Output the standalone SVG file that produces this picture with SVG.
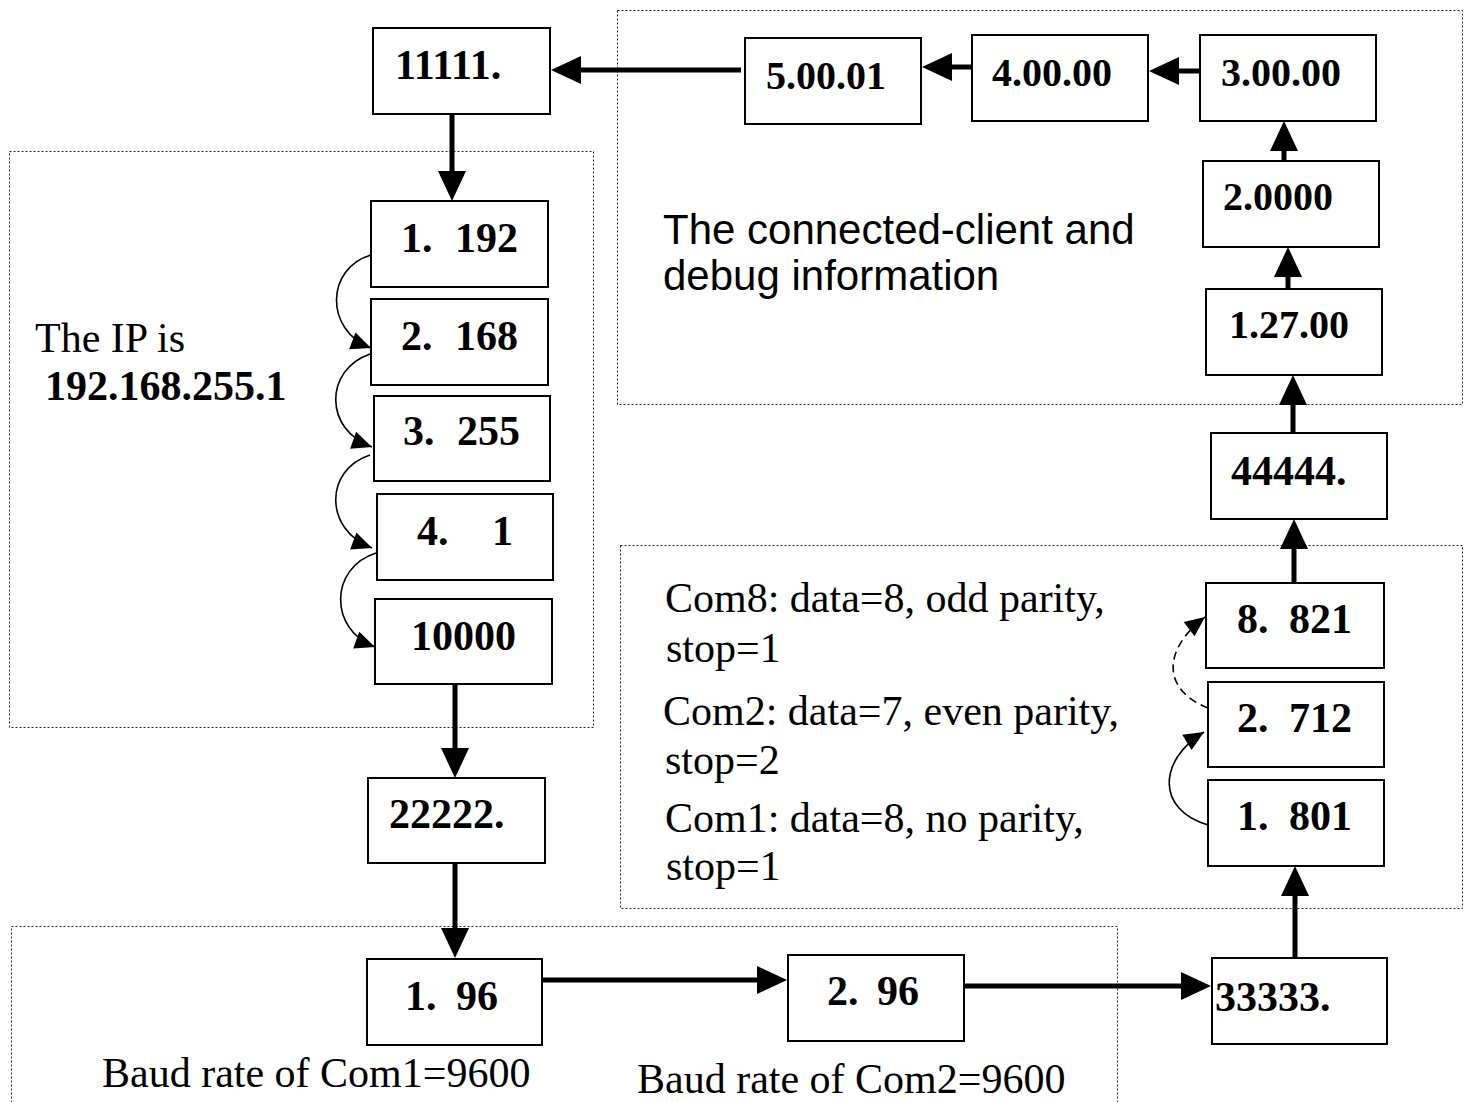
<svg xmlns="http://www.w3.org/2000/svg" width="1465" height="1102" viewBox="0 0 1465 1102">
<style>
.frame{fill:none;stroke:#222;stroke-width:1;stroke-dasharray:2 2}
.box{fill:#fff;stroke:#000;stroke-width:2}
.b{font-family:"Liberation Serif","Times New Roman",serif;font-weight:bold;font-size:42px;fill:#000}
.b2{font-family:"Liberation Serif","Times New Roman",serif;font-weight:bold;font-size:40px;fill:#000}
.r{font-family:"Liberation Serif","Times New Roman",serif;font-size:42px;fill:#000}
.s{font-family:"Liberation Sans",Arial,sans-serif;font-size:42px;fill:#000}
.thick{fill:none;stroke:#000;stroke-width:5;marker-end:url(#big)}
.thin{fill:none;stroke:#000;stroke-width:1.6;marker-end:url(#small)}
.dash{stroke-dasharray:8 5}
</style>
<defs>
<marker id="big" markerUnits="userSpaceOnUse" markerWidth="31" markerHeight="29" refX="0" refY="14" orient="auto" overflow="visible">
<path d="M0,0 L30,14 L0,28 Z" fill="#000"/>
</marker>
<marker id="small" markerUnits="userSpaceOnUse" markerWidth="21" markerHeight="20" refX="20" refY="9" orient="auto" overflow="visible">
<path d="M0,0 L20,9 L0,18 Z" fill="#000"/>
</marker>
</defs>

<g id="frames">
<rect class="frame" x="9.5" y="151.5" width="584" height="576"/>
<rect class="frame" x="617.5" y="10.5" width="845" height="394"/>
<rect class="frame" x="620.5" y="545.5" width="842" height="363"/>
<rect class="frame" x="11.5" y="926.5" width="1106" height="200"/>
</g>

<g id="connectors">
<path class="thick" d="M452,114 L452,171"/>
<path class="thick" d="M455,684 L455,748"/>
<path class="thick" d="M455,862 L455,928"/>
<path class="thick" d="M542,980 L757,980"/>
<path class="thick" d="M964,986 L1181,986"/>
<path class="thick" d="M1295,958 L1295,896"/>
<path class="thick" d="M1294,583 L1294,549"/>
<path class="thick" d="M1293,433 L1293,405"/>
<path class="thick" d="M1288,289 L1288,277"/>
<path class="thick" d="M1284,161 L1284,151"/>
<path class="thick" d="M1200,71 L1179,71"/>
<path class="thick" d="M971,67 L952,67"/>
<path class="thick" d="M741,70 L581,70"/>
<path class="thin" d="M371,255 C326,268 324,330 371,348"/>
<path class="thin" d="M370,354 C324,370 324,430 372,447"/>
<path class="thin" d="M370,455 C324,470 324,530 372,548"/>
<path class="thin" d="M376,553 C329,568 329,630 375,647"/>
<path class="thin" d="M1208,825 C1156,810 1158,760 1204,732"/>
<path class="thin dash" d="M1208,708 C1162,690 1162,650 1205,617"/>
</g>

<g id="n11111"><rect class="box" x="373" y="28" width="177" height="86"/><text class="b" x="395" y="79">11111.</text></g>
<g id="n50001"><rect class="box" x="745" y="38" width="176" height="86"/><text class="b2" x="766" y="89">5.00.01</text></g>
<g id="n40000"><rect class="box" x="972" y="35" width="176" height="86"/><text class="b2" x="992" y="86">4.00.00</text></g>
<g id="n30000"><rect class="box" x="1200" y="35" width="176" height="86"/><text class="b2" x="1221" y="86">3.00.00</text></g>
<g id="n20000"><rect class="box" x="1203" y="161" width="176" height="86"/><text class="b2" x="1223" y="210">2.0000</text></g>
<g id="n12700"><rect class="box" x="1206" y="289" width="176" height="86"/><text class="b2" x="1229" y="338">1.27.00</text></g>
<g id="n44444"><rect class="box" x="1211" y="433" width="176" height="86"/><text class="b" x="1231" y="485">44444.</text></g>
<g id="n8821"><rect class="box" x="1206" y="583" width="178" height="85"/><text class="b" x="1237" y="633">8.<tspan x="1289">821</tspan></text></g>
<g id="n2712"><rect class="box" x="1208" y="682" width="176" height="85"/><text class="b" x="1237" y="732">2.<tspan x="1289">712</tspan></text></g>
<g id="n1801"><rect class="box" x="1208" y="780" width="176" height="86"/><text class="b" x="1237" y="830">1.<tspan x="1289">801</tspan></text></g>
<g id="n33333"><rect class="box" x="1212" y="958" width="175" height="86"/><text class="b" x="1215" y="1011">33333.</text></g>
<g id="n196"><rect class="box" x="367" y="959" width="175" height="86"/><text class="b" x="405" y="1010">1.<tspan x="456">96</tspan></text></g>
<g id="n296"><rect class="box" x="788" y="955" width="176" height="86"/><text class="b" x="827" y="1005">2.<tspan x="877">96</tspan></text></g>
<g id="n1192"><rect class="box" x="371" y="201" width="177" height="86"/><text class="b" x="401" y="252">1.<tspan x="455">192</tspan></text></g>
<g id="n2168"><rect class="box" x="371" y="299" width="177" height="86"/><text class="b" x="401" y="350">2.<tspan x="455">168</tspan></text></g>
<g id="n3255"><rect class="box" x="374" y="396" width="176" height="85"/><text class="b" x="403" y="445">3.<tspan x="457">255</tspan></text></g>
<g id="n41"><rect class="box" x="377" y="494" width="176" height="86"/><text class="b" x="417" y="545">4.<tspan x="492">1</tspan></text></g>
<g id="n10000"><rect class="box" x="375" y="599" width="177" height="85"/><text class="b" x="411" y="650">10000</text></g>
<g id="n22222"><rect class="box" x="368" y="778" width="177" height="85"/><text class="b" x="389" y="828">22222.</text></g>

<g id="labels">
<text class="r" x="35" y="352">The IP is</text>
<text class="b" x="45" y="400">192.168.255.1</text>
<text class="s" x="663" y="244">The connected-client and</text>
<text class="s" x="663" y="290">debug information</text>
<text class="r" x="665" y="612">Com8: data=8, odd parity,</text>
<text class="r" x="666" y="662">stop=1</text>
<text class="r" x="663" y="725">Com2: data=7, even parity,</text>
<text class="r" x="665" y="774">stop=2</text>
<text class="r" x="665" y="832">Com1: data=8, no parity,</text>
<text class="r" x="666" y="880">stop=1</text>
<text class="r" x="102" y="1087">Baud rate of Com1=9600</text>
<text class="r" x="637" y="1093">Baud rate of Com2=9600</text>
</g>
</svg>
